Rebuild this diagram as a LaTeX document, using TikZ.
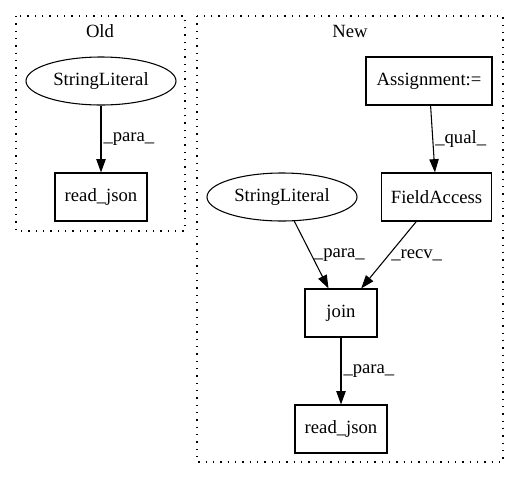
\documentclass[tikz,border=0pt]{standalone}
\usepackage{fontspec}
\setmainfont{Liberation Serif}
\usetikzlibrary{shapes.geometric,arrows.meta}

\begin{document}
\begin{tikzpicture}[x=0.75pt,y=-0.75pt,line width=0.8pt,
   every node/.style={font=\fontsize{14}{16}\selectfont},
   box/.style={draw,rectangle,minimum height=36pt,inner sep=0pt},
   oval/.style={draw,ellipse,minimum width=112.5pt,minimum height=36pt,inner sep=0pt},
   dep/.style={-{Triangle[length=10pt,width=7pt]}},
   lbl/.style={anchor=west,inner sep=1.5pt},
   cluster/.style={draw,dash pattern=on 1pt off 4.5pt}]
\useasboundingbox (0,0) rectangle (519,480);

% Old
\draw[cluster] (16,16) rectangle (185,231);
\node (oldlabel) at (100,31) {Old};
\node[oval] (oldlit) at (101,81) {StringLiteral};
\node[box,minimum width=69pt] (oldread) at (101,197) {read\_json};
\draw[dep] (oldlit) -- node[lbl] {\_para\_} (oldread);

% New
\draw[cluster] (197,16) rectangle (503,462);
\node (newlabel) at (350,31) {New};
\node[box,minimum width=94.5pt] (assign) at (429,81) {Assignment:=};
\node[box,minimum width=83pt] (field) at (436.5,197) {FieldAccess};
\node[oval] (newlit) at (282,197) {StringLiteral};
\node[box,minimum width=54pt] (join) at (341,313) {join};
\node[box,minimum width=69pt] (newread) at (341,429) {read\_json};
\draw[dep] (assign) -- node[lbl] {\_qual\_} (field);
\draw[dep] (newlit) -- node[lbl] {\_para\_} (join);
\draw[dep] (field) -- node[lbl] {\_recv\_} (join);
\draw[dep] (join) -- node[lbl] {\_para\_} (newread);
\end{tikzpicture}
\end{document}
